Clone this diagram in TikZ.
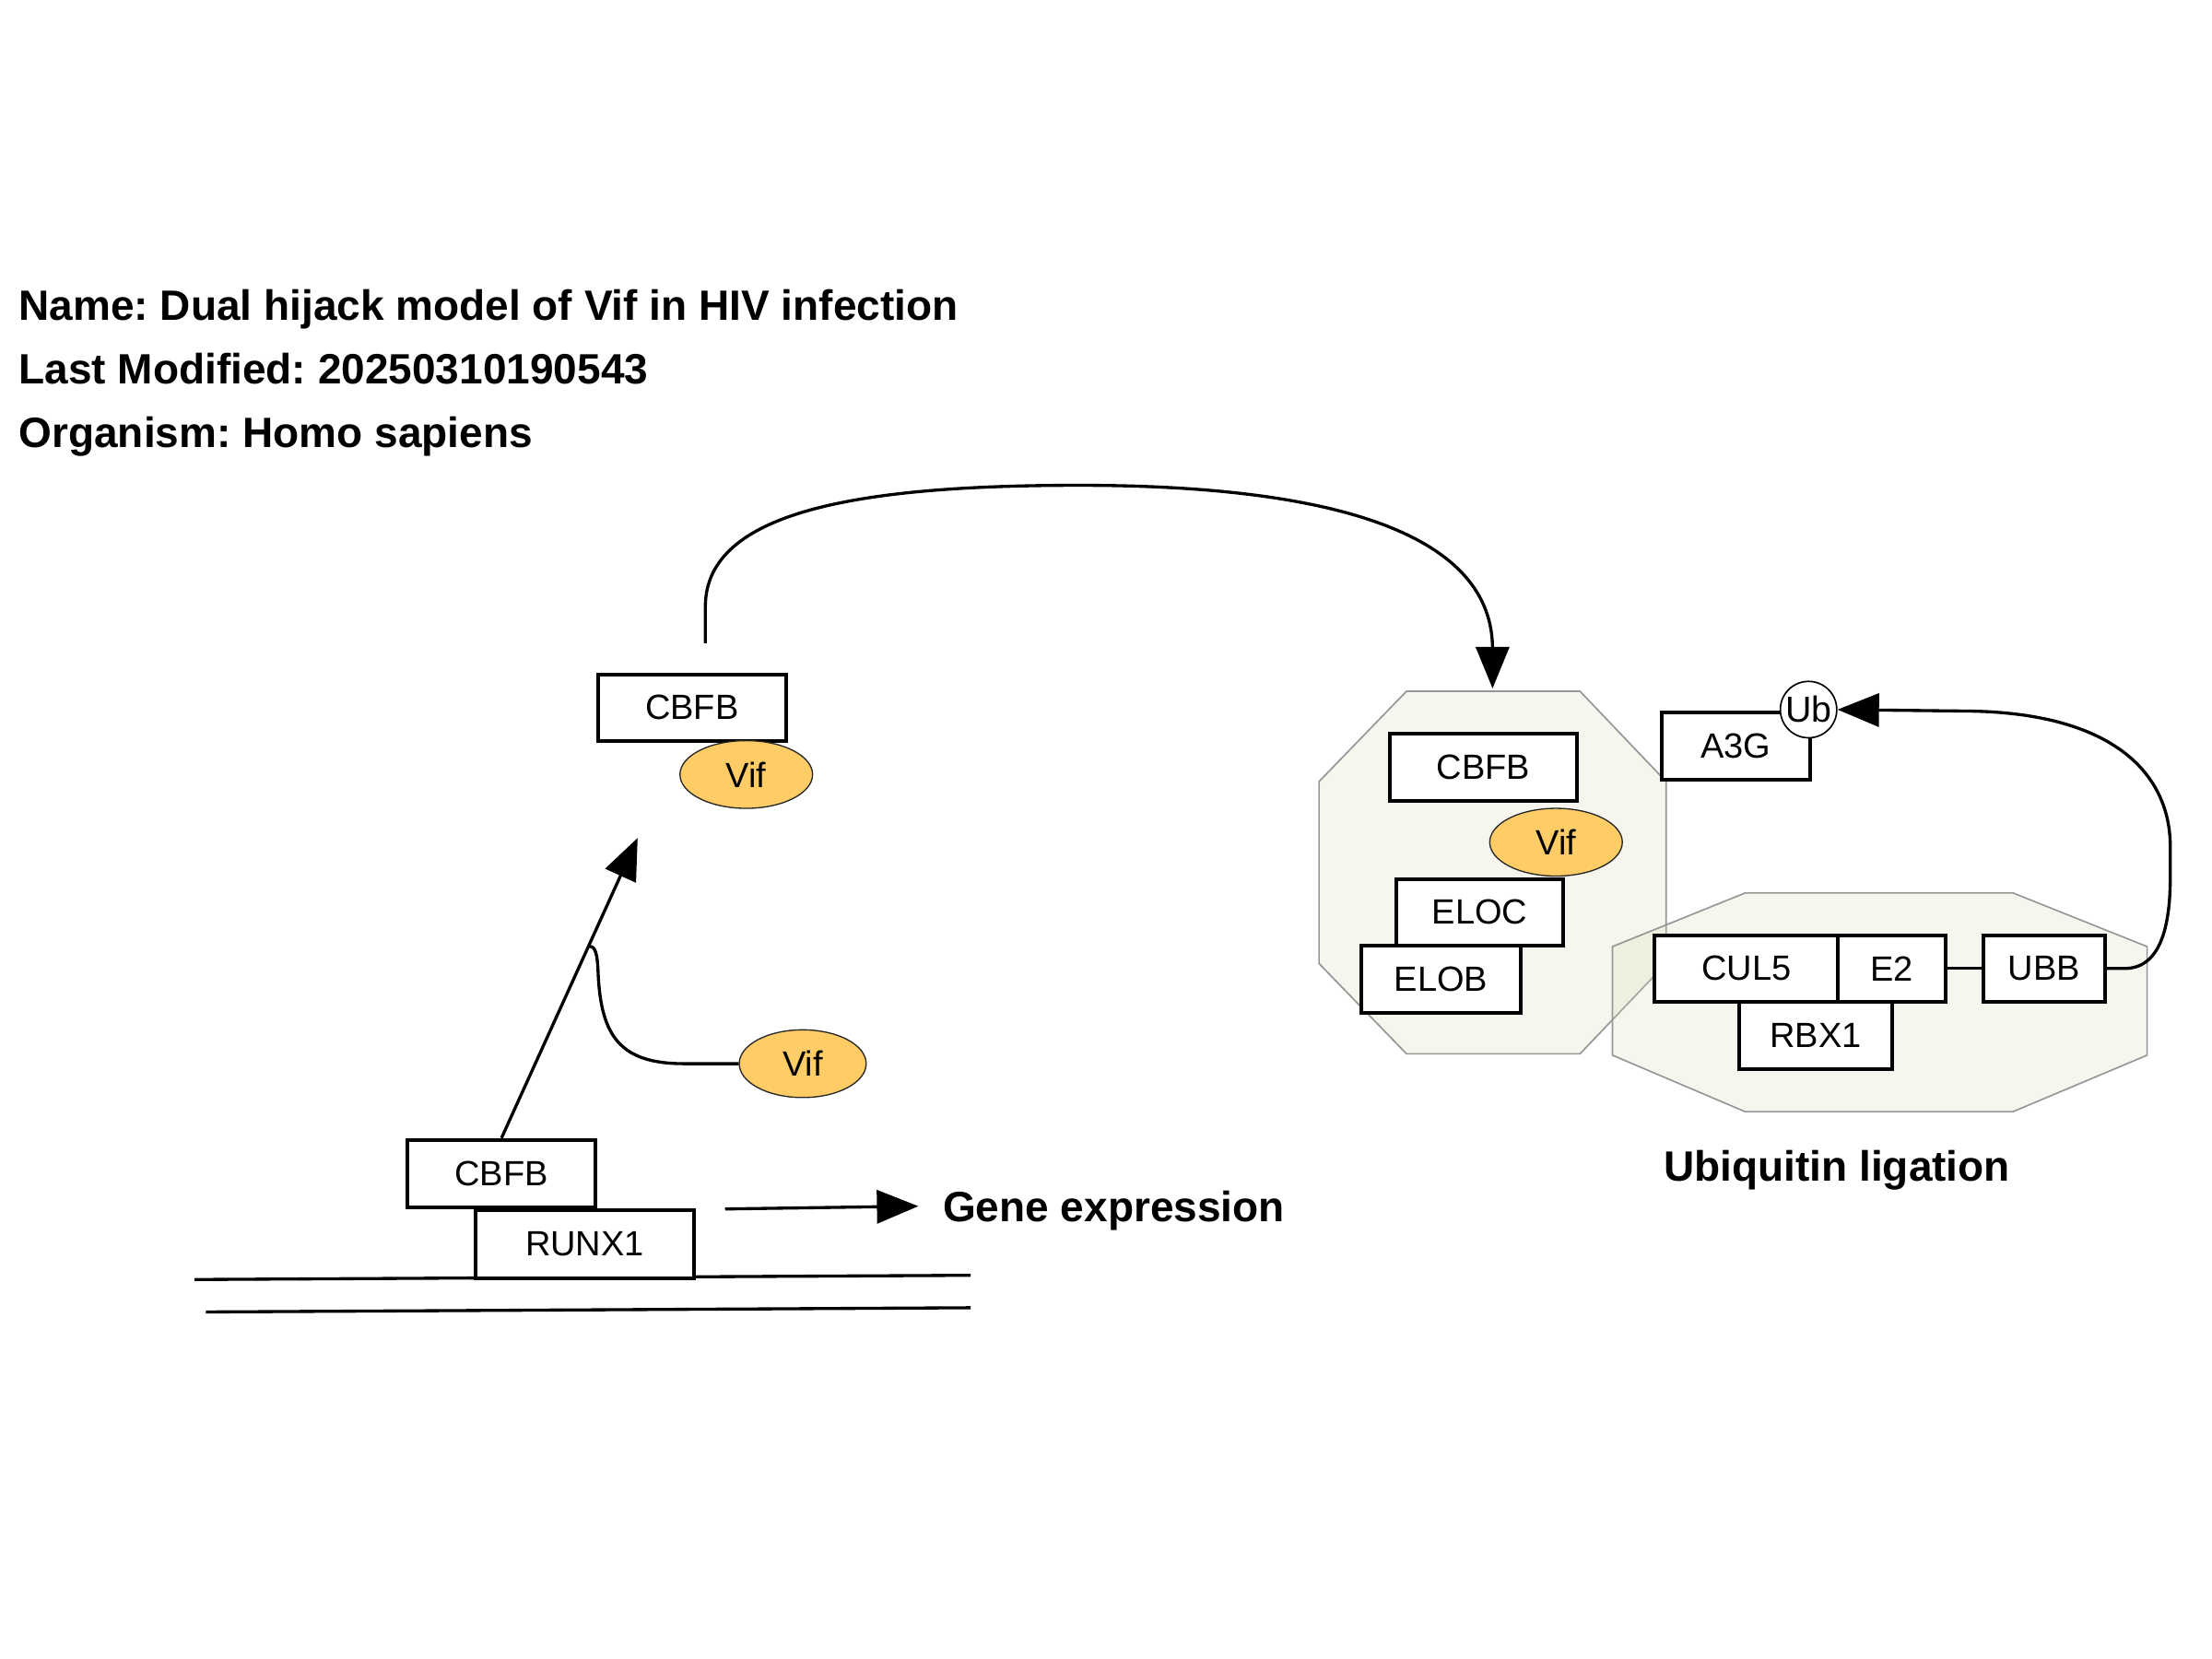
\documentclass[tikz,border=0pt]{standalone}
\usepackage{fontspec}
\setmainfont{Liberation Sans}
\usetikzlibrary{arrows.meta,shapes.geometric}
\definecolor{vif}{RGB}{255,204,102}
\definecolor{cfill}{RGB}{215,215,180}
\definecolor{cline}{RGB}{150,150,150}
\frenchspacing
\begin{document}
\begin{tikzpicture}[x=0.45918pt,y=-0.45918pt,
  sz/.style 2 args={minimum width={#1*0.45918pt},minimum height={#2*0.45918pt}},
  box/.style={draw,line width=1.2pt,fill=white,inner sep=0pt,font=\fontsize{11.4}{13}\selectfont},
  prot/.style={ellipse,draw=black!85,line width=0.4pt,fill=vif,inner sep=0pt,font=\fontsize{11.4}{13}\selectfont},
  cplx/.style={draw=cline,line width=0.5pt,fill=cfill,fill opacity=0.23},
  conn/.style={line width=1pt},
  arr/.style={conn,-{Triangle[length=13.5pt,width=10.8pt]}},
  ttl/.style={anchor=base west,inner sep=0pt,font=\fontsize{13.8}{16}\selectfont\bfseries}]
\useasboundingbox (0,0) rectangle (1568,1176);

% title
\node[ttl] (t1) at (13,227) {Name: Dual hijack model of Vif in HIV infection};
\node[ttl] (t2) at (13,272) {Last Modified: 20250310190543};
\node[ttl] (t3) at (13,317) {Organism: Homo sapiens};

% complexes
\path[cplx] (997,490) -- (1120,490) -- (1181,554) -- (1181,683) -- (1120,747) -- (997,747) -- (935,683) -- (935,554) -- cycle;
\path[cplx] (1237,633) -- (1427,633) -- (1522,671) -- (1522,748) -- (1427,788) -- (1237,788) -- (1143,748) -- (1143,671) -- cycle;
\coordinate (cplxtop) at (1058,488);

% DNA
\coordinate (d1a) at (138,907); \coordinate (d1b) at (688,904);
\coordinate (d2a) at (146,930); \coordinate (d2b) at (688,927);
\draw[conn] (d1a) -- (d1b);
\draw[conn] (d2a) -- (d2b);

% left nodes
\node[box,sz={133}{47}] (cbfbA) at (490.5,501.5) {CBFB};
\node[prot,sz={94}{48}] (vifA) at (529,549) {Vif};
\node[box,sz={133}{48}] (cbfbB) at (355.5,832) {CBFB};
\node[box,sz={155}{48}] (runx) at (414.5,882) {RUNX1};
\node[prot,sz={90}{48}] (vifB) at (569,754) {Vif};

% right nodes
\node[box,sz={133}{48}] (cbfbC) at (1051.5,544) {CBFB};
\node[prot,sz={94}{48}] (vifC) at (1103,597) {Vif};
\node[box,sz={118}{47}] (eloc) at (1049,646.5) {ELOC};
\node[box,sz={113}{48}] (elob) at (1021.5,694) {ELOB};
\node[box,sz={105}{48}] (a3g) at (1230.5,529) {A3G};
\node[circle,draw,line width=0.5pt,fill=white,inner sep=0pt,minimum size={40*0.45918pt},font=\fontsize{11.8}{13}\selectfont] (ub) at (1282,503) {Ub};
\node[box,sz={130}{47}] (cul5) at (1238,686.5) {CUL5};
\node[box,sz={76}{47}] (e2) at (1341,686.5) {E2};
\node[box,sz={86}{47}] (ubb) at (1449,686.5) {UBB};
\node[box,sz={108}{48}] (rbx1) at (1287,734) {RBX1};

% labels
\node[ttl] (gene) at (668,866) {Gene expression};
\node[ttl] (ubl) at (1179,837) {Ubiquitin ligation};

% connectors
\coordinate (tipA) at (452,594);
\coordinate (joinA) at (418,670.6);
\draw[arr] (cbfbB.north) -- (tipA);
\draw[conn] (vifB.west) -- (485,754) .. controls (440,754) and (426,735) .. (424,690) .. controls (423.5,676) and (422,671) .. (joinA);

\coordinate (startC) at (500,456);
\draw[arr] (startC) -- (500,430) .. controls (500,362) and (610,344) .. (765,344) .. controls (950,344) and (1058,380) .. (1058,460) -- (cplxtop);

\coordinate (geneA) at (514,857);
\coordinate (geneB) at (651,855);
\draw[arr] (geneA) -- (geneB);

\draw[conn] (e2.east) -- (ubb.west);
\draw[arr] (ubb.east) -- (1506,686.5) .. controls (1530,686.5) and (1538.4,660) .. (1538.4,622) -- (1538.4,600) .. controls (1538.4,550) and (1500,504) .. (1390,504) -- (ub.east);
\end{tikzpicture}
\end{document}
